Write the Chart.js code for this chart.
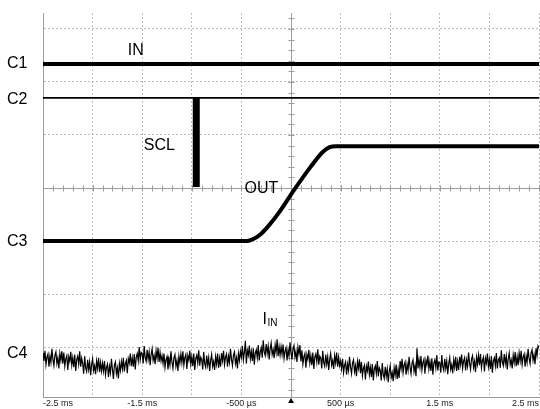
<!DOCTYPE html>
<html>
<head>
<meta charset="utf-8">
<script src="https://cdn.jsdelivr.net/npm/chart.js@4/dist/chart.umd.min.js"></script>
<style>
  html, body { margin: 0; padding: 0; background: #ffffff; }
  #wrap { width: 540px; height: 409px; position: relative; }
</style>
</head>
<body>
<div id="wrap"><canvas id="scope" width="540" height="409"></canvas></div>
<script>
// ---- Screen layout in divisions (vertical) and milliseconds (horizontal) ----
const TIME_GRID = [-2.5, -2, -1.5, -1, -0.5, 0, 0.5, 1, 1.5, 2, 2.5];
const TIME_TICKS = [-2.5, -1.5, -0.5, 0.5, 1.5, 2.5];
const TIME_TICK_LABELS = ['-2.5 ms', '-1.5 ms', '-500 \u00b5s', '500 \u00b5s', '1.5 ms', '2.5 ms'];
const DIV_GRID = [-3, -2, -1, 0, 1, 2, 3];

// Channel markers and their ground levels (divisions)
const CHANNEL_NAMES = ['C1', 'C2', 'C3', 'C4'];
const CHANNEL_LEVELS = [2.37, 1.69, -0.98, -3.09];

// C1: IN
const IN_T = [-2.5, 2.5];
const IN_V = [2.34, 2.34];

// C2: SCL line and the burst of clock activity
const SCL_T = [-2.5, 2.5];
const SCL_V = [1.70, 1.70];
const SCL_BURST_T = [-0.955, -0.955];
const SCL_BURST_V = [1.70, 0.02];

// C3: OUT soft-start ramp
const OUT_T = [-2.5, -0.45, -0.37, -0.30, -0.22, -0.12, 0.03, 0.19, 0.32, 0.39, 0.45, 2.5];
const OUT_V = [-1.00, -1.00, -0.95, -0.86, -0.70, -0.46, -0.04, 0.38, 0.68, 0.77, 0.79, 0.79];

// C4: input current, sampled every 0.01 ms from -2.5 ms
const IIN_T0 = -2.5;
const IIN_DT = 0.01;
const IIN_V = [
  -3.11, -3.26, -3.07, -3.33, -3.19, -3.13, -3.37, -3.17, -3.29, -3.03, -3.23, -3.35, -3.15, -3.09, -3.31, -3.20, -3.40, -3.12, -3.25, -3.08,
  -3.31, -3.10, -3.36, -3.22, -3.16, -3.43, -3.18, -3.27, -3.09, -3.34, -3.20, -3.38, -3.14, -3.45, -3.23, -3.17, -3.32, -3.08, -3.37, -3.21,
  -3.31, -3.50, -3.17, -3.39, -3.46, -3.24, -3.42, -3.28, -3.53, -3.33, -3.22, -3.44, -3.35, -3.51, -3.26, -3.40, -3.20, -3.47, -3.29, -3.45,
  -3.30, -3.45, -3.26, -3.52, -3.38, -3.32, -3.56, -3.36, -3.48, -3.22, -3.42, -3.60, -3.34, -3.28, -3.50, -3.39, -3.59, -3.31, -3.44, -3.27,
  -3.41, -3.20, -3.46, -3.31, -3.25, -3.49, -3.22, -3.30, -3.12, -3.36, -3.20, -3.37, -3.13, -3.42, -3.19, -3.12, -3.26, -3.00, -3.24, -3.10,
  -3.12, -3.31, -2.98, -3.20, -3.27, -3.05, -3.23, -3.09, -3.34, -3.14, -3.03, -3.25, -3.16, -3.32, -3.07, -3.21, -3.01, -3.28, -3.10, -3.26,
  -3.16, -3.31, -3.12, -3.38, -3.24, -3.18, -3.42, -3.22, -3.34, -3.08, -3.28, -3.40, -3.20, -3.14, -3.36, -3.25, -3.45, -3.17, -3.30, -3.13,
  -3.29, -3.08, -3.34, -3.20, -3.14, -3.41, -3.16, -3.25, -3.07, -3.32, -3.18, -3.36, -3.12, -3.43, -3.21, -3.15, -3.30, -3.06, -3.35, -3.19,
  -3.23, -3.42, -3.09, -3.31, -3.38, -3.16, -3.34, -3.20, -3.45, -3.25, -3.14, -3.36, -3.27, -3.43, -3.18, -3.32, -3.12, -3.39, -3.21, -3.37,
  -3.11, -3.26, -3.07, -3.33, -3.19, -3.13, -3.37, -3.17, -3.29, -3.03, -3.23, -3.35, -3.15, -3.09, -3.31, -3.20, -3.40, -3.12, -3.25, -3.08,
  -3.19, -2.98, -3.24, -3.10, -2.88, -3.31, -3.06, -3.15, -2.97, -3.22, -3.08, -3.26, -3.02, -3.33, -3.11, -3.05, -3.20, -2.96, -3.25, -3.09,
  -3.01, -3.20, -2.87, -3.09, -3.16, -2.94, -3.12, -2.98, -3.23, -3.03, -2.92, -3.14, -3.05, -3.21, -2.96, -3.10, -2.85, -3.17, -2.99, -3.15,
  -2.99, -3.14, -2.95, -3.21, -3.07, -3.01, -3.25, -3.05, -3.17, -2.91, -3.11, -3.23, -3.03, -2.97, -3.19, -3.08, -3.28, -3.00, -3.13, -2.96,
  -3.27, -3.06, -3.32, -3.18, -3.12, -3.39, -3.14, -3.23, -3.05, -3.30, -3.16, -3.34, -3.10, -3.41, -3.19, -3.13, -3.28, -3.04, -3.33, -3.17,
  -3.21, -3.40, -3.07, -3.29, -3.36, -3.14, -3.32, -3.18, -3.43, -3.23, -3.12, -3.34, -3.25, -3.41, -3.16, -3.30, -3.10, -3.37, -3.19, -3.35,
  -3.26, -3.41, -3.22, -3.48, -3.34, -3.28, -3.52, -3.32, -3.44, -3.18, -3.38, -3.50, -3.30, -3.24, -3.46, -3.35, -3.55, -3.27, -3.40, -3.23,
  -3.49, -3.28, -3.54, -3.40, -3.34, -3.61, -3.36, -3.45, -3.27, -3.52, -3.38, -3.56, -3.32, -3.63, -3.41, -3.35, -3.50, -3.26, -3.55, -3.39,
  -3.44, -3.63, -3.30, -3.52, -3.59, -3.37, -3.55, -3.41, -3.66, -3.46, -3.35, -3.57, -3.48, -3.64, -3.39, -3.53, -3.33, -3.60, -3.42, -3.58,
  -3.26, -3.41, -3.22, -3.48, -3.34, -3.28, -3.52, -3.32, -3.44, -3.18, -3.38, -3.50, -3.30, -3.24, -3.46, -3.35, -3.55, -3.02, -3.40, -3.23,
  -3.38, -3.17, -3.43, -3.29, -3.23, -3.50, -3.25, -3.34, -3.16, -3.41, -3.27, -3.45, -3.21, -3.52, -3.30, -3.24, -3.39, -3.15, -3.44, -3.28,
  -3.29, -3.48, -3.15, -3.37, -3.44, -3.22, -3.40, -3.26, -3.51, -3.31, -3.20, -3.42, -3.33, -3.49, -3.24, -3.38, -3.18, -3.45, -3.27, -3.43,
  -3.18, -3.33, -3.14, -3.40, -3.26, -3.20, -3.44, -3.24, -3.36, -3.10, -3.30, -3.42, -3.22, -3.16, -3.38, -3.27, -3.47, -3.19, -3.32, -3.15,
  -3.34, -3.13, -3.39, -3.25, -3.19, -3.46, -3.21, -3.30, -3.12, -3.37, -3.23, -3.41, -3.17, -3.48, -3.26, -3.20, -3.35, -3.11, -3.40, -3.24,
  -3.20, -3.39, -3.06, -3.28, -3.35, -3.13, -3.31, -3.17, -3.42, -3.22, -3.11, -3.33, -3.24, -3.40, -3.15, -3.29, -3.09, -3.36, -3.18, -3.34,
  -3.11, -3.26, -3.07, -3.33, -3.19, -3.13, -3.37, -3.17, -3.29, -3.03, -3.21, -3.31, -3.11, -3.05, -3.25, -3.14, -3.32, -3.02, -3.16, -2.98,
  -3.02
];

const FONT = '"Liberation Sans", Arial, Helvetica, sans-serif';
const GRID_COLOR = '#bdbdbd';
const AXIS_COLOR = '#9c9c9c';

function pairs(ts, vs) { return ts.map((t, i) => ({ x: t, y: vs[i] })); }
const iinPoints = IIN_V.map((v, i) => ({ x: IIN_T0 + i * IIN_DT, y: v }));

function trace(data, width, extra) {
  return Object.assign({
    type: 'line', data, borderColor: '#000000', borderWidth: width,
    pointRadius: 0, tension: 0, fill: false, borderCapStyle: 'butt'
  }, extra || {});
}

// Centre crosshair with minor ticks
const crosshair = {
  id: 'crosshair',
  beforeDatasetsDraw(chart) {
    const { ctx, chartArea: a, scales: { x, y } } = chart;
    const cx = Math.round(x.getPixelForValue(0)) + 0.5;
    const cy = Math.round(y.getPixelForValue(0)) + 0.5;
    ctx.save();
    ctx.strokeStyle = AXIS_COLOR;
    ctx.lineWidth = 1;
    ctx.beginPath();
    ctx.moveTo(a.left, cy); ctx.lineTo(a.right, cy);
    ctx.moveTo(cx, a.top); ctx.lineTo(cx, a.bottom);
    for (let t = -2.5; t <= 2.5001; t += 0.1) {
      const px = Math.round(x.getPixelForValue(t)) + 0.5;
      ctx.moveTo(px, cy - 3); ctx.lineTo(px, cy + 3);
    }
    for (let d = -3.8; d <= 3.3; d += 0.2) {
      const py = Math.round(y.getPixelForValue(d)) + 0.5;
      if (py < a.top || py > a.bottom) continue;
      ctx.moveTo(cx - 3, py); ctx.lineTo(cx + 3, py);
    }
    ctx.stroke();
    ctx.restore();
  }
};

// Channel markers, trace names, time labels and trigger marker
const labels = {
  id: 'labels',
  afterDatasetsDraw(chart) {
    const { ctx, chartArea: a, scales: { x, y } } = chart;
    ctx.save();
    ctx.fillStyle = '#000000';
    ctx.textBaseline = 'alphabetic';
    ctx.textAlign = 'left';
    ctx.font = '16px ' + FONT;
    CHANNEL_NAMES.forEach((n, i) => {
      ctx.fillText(n, 7, y.getPixelForValue(CHANNEL_LEVELS[i]) + 6);
    });
    ctx.fillText('IN', x.getPixelForValue(-1.645), y.getPixelForValue(2.51));
    ctx.fillText('SCL', x.getPixelForValue(-1.484), y.getPixelForValue(0.717));
    ctx.fillText('OUT', x.getPixelForValue(-0.468), y.getPixelForValue(-0.094));
    ctx.fillText('I', x.getPixelForValue(-0.287), y.getPixelForValue(-2.566));
    ctx.font = '10px ' + FONT;
    ctx.fillText('IN', x.getPixelForValue(-0.236), y.getPixelForValue(-2.604));

    ctx.font = '9px ' + FONT;
    ctx.fillStyle = '#222222';
    ctx.textBaseline = 'middle';
    TIME_TICKS.forEach((t, i) => {
      ctx.textAlign = i === 0 ? 'left' : (i === TIME_TICKS.length - 1 ? 'right' : 'center');
      ctx.fillText(TIME_TICK_LABELS[i], x.getPixelForValue(t), a.bottom + 7);
    });

    const tx = x.getPixelForValue(0);
    ctx.fillStyle = '#000000';
    ctx.beginPath();
    ctx.moveTo(tx, a.bottom + 1);
    ctx.lineTo(tx - 3, a.bottom + 6);
    ctx.lineTo(tx + 3, a.bottom + 6);
    ctx.closePath();
    ctx.fill();
    ctx.restore();
  }
};

new Chart(document.getElementById('scope'), {
  type: 'line',
  data: {
    datasets: [
      trace(pairs(IN_T, IN_V), 4),
      trace(pairs(SCL_T, SCL_V), 1.8),
      trace(pairs(SCL_BURST_T, SCL_BURST_V), 7),
      trace(pairs(OUT_T, OUT_V), 4, { cubicInterpolationMode: 'monotone' }),
      trace(iinPoints, 1.2)
    ]
  },
  options: {
    responsive: false,
    animation: false,
    devicePixelRatio: 1,
    layout: { padding: { left: 43, right: 1, top: 13, bottom: 12 } },
    plugins: { legend: { display: false }, tooltip: { enabled: false } },
    scales: {
      x: {
        type: 'linear', min: -2.5, max: 2.5,
        afterBuildTicks: s => { s.ticks = TIME_GRID.map(v => ({ value: v })); },
        ticks: { display: false },
        grid: { color: GRID_COLOR, lineWidth: 1, drawTicks: false },
        border: { display: true, color: AXIS_COLOR, width: 1, dash: [2, 2] }
      },
      y: {
        type: 'linear', min: -3.94, max: 3.30,
        afterBuildTicks: s => { s.ticks = DIV_GRID.map(v => ({ value: v })); },
        ticks: { display: false },
        grid: { color: GRID_COLOR, lineWidth: 1, drawTicks: false },
        border: { display: true, color: AXIS_COLOR, width: 1, dash: [2, 2] }
      }
    }
  },
  plugins: [crosshair, labels]
});
</script>
</body>
</html>
